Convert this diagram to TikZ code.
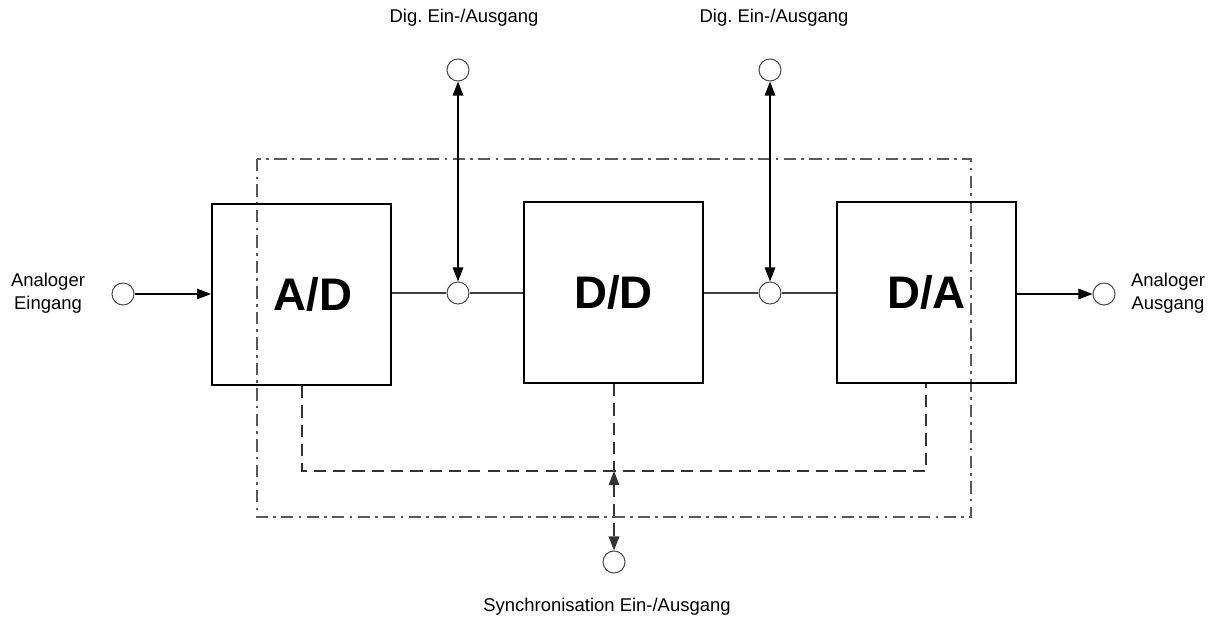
\documentclass[tikz,border=0pt]{standalone}
\usepackage{fontspec}
\setmainfont{Liberation Sans}
\usetikzlibrary{arrows.meta}
\frenchspacing

\tikzset{
	block/.style={draw=black, line width=1.1pt, minimum width=3.58cm, minimum height=3.62cm, inner sep=0pt,
		font=\fontsize{26}{28}\selectfont\bfseries},
	port/.style={circle, draw=black!70, line width=0.6pt, fill=white, minimum size=0.44cm, inner sep=0pt},
	lbl/.style={font=\fontsize{10.5}{13}\selectfont, align=center, inner sep=0pt},
	tip/.style={Triangle[length=2.8mm,width=2.1mm]},
	sig/.style={line width=0.8pt, -{Triangle[length=2.8mm,width=2.1mm]}},
	bidir/.style={line width=0.8pt, {Triangle[length=2.8mm,width=2.1mm]}-{Triangle[length=2.8mm,width=2.1mm]}},
	link/.style={line width=0.8pt, black!75},
	sync/.style={line width=0.8pt, black!80, dash pattern=on 7pt off 4pt},
	frame/.style={line width=0.7pt, black!65, dash pattern=on 7pt off 3pt on 1.5pt off 3pt}
}

\begin{document}
\begin{tikzpicture}[x=0.02cm, y=-0.02cm]
	\useasboundingbox (0,0) rectangle (1216,618);
	% frame
	\draw[frame] (257,159) rectangle (971,517);
	% blocks
	\node[block] (ad) at (301.5,294.5) {\hspace*{0.45cm}A/D};
	\node[block] (dd) at (613.5,292.5) {D/D};
	\node[block] (da) at (926.5,292.5) {D/A};
	% ports
	\node[port] (in)   at (123,294) {};
	\node[port] (out)  at (1104,294) {};
	\node[port] (mid1) at (458,293) {};
	\node[port] (mid2) at (770,293) {};
	\node[port] (dig1) at (458,70) {};
	\node[port] (dig2) at (770,70) {};
	\node[port] (syn)  at (614,562) {};
	% labels
	\node[lbl] at (48,293) {Analoger\\Eingang};
	\node[lbl] at (1168,293) {Analoger\\Ausgang};
	\node[lbl] at (464,18) {Dig. Ein-/Ausgang};
	\node[lbl] at (774,18) {Dig. Ein-/Ausgang};
	\node[lbl] at (607,607) {Synchronisation Ein-/Ausgang};
	% signal path
	\draw[sig] (in) -- (in -| ad.west);
	\draw[sig] (da.east |- out) -- (out);
	\draw[link] (ad.east |- mid1) -- (mid1) -- (dd.west |- mid1);
	\draw[link] (dd.east |- mid2) -- (mid2) -- (da.west |- mid2);
	\draw[bidir] (dig1) -- (mid1);
	\draw[bidir] (dig2) -- (mid2);
	% sync bus
	\coordinate (busl) at (302,471);
	\coordinate (busm) at (614,471);
	\coordinate (busr) at (926,471);
	\draw[sync] (ad.south -| busl) -- (busl) -- (busr) -- (da.south -| busr);
	\draw[sync] (dd.south -| busm) -- (busm);
	\draw[sync, {Triangle[length=2.8mm,width=2.1mm]}-{Triangle[length=2.8mm,width=2.1mm]}] (busm) -- (syn);
\end{tikzpicture}
\end{document}
